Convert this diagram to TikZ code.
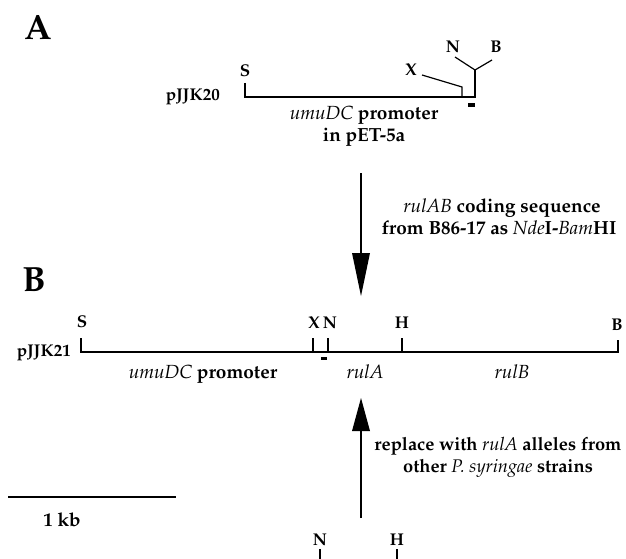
\documentclass[tikz,border=0pt]{standalone}
\usepackage[T1]{fontenc}
\usepackage{mathpazo}
\begin{document}
\begin{tikzpicture}[x=1pt,y=-1pt,
  lbl/.style={font=\fontsize{17}{19}\selectfont\bfseries, inner sep=0pt},
  txt/.style={font=\fontsize{19}{22}\selectfont\bfseries, inner sep=0pt, align=center},
  txts/.style={font=\fontsize{18.3}{22}\selectfont\bfseries, inner sep=0pt, align=center},
  panel/.style={font=\fontsize{35}{37}\selectfont\bfseries, inner sep=0pt},
  dna/.style={line width=1.4pt, line cap=butt},
  tick/.style={line width=1.2pt},
  bigarrow/.style={line width=1.4pt}
]
\useasboundingbox (0,0) rectangle (626,559);
% ---------------- Panel A
\node[panel] (pA) at (38,27) {A};
\node[lbl, anchor=base east] (p20) at (220,101) {pJJK20};
\node[lbl] (sA) at (245,71) {S};
\node[lbl] (xA) at (411,70) {X};
\node[lbl] (nA) at (453,47) {N};
\node[lbl] (bA) at (496,47) {B};
\coordinate (a0) at (245,83);
\coordinate (a1) at (245,97);
\coordinate (a2) at (475,97);
\coordinate (a3) at (475,70);
\coordinate (xt) at (462,97);
\coordinate (xt2) at (462,87);
\draw[dna] (a0) -- (a1) -- (a2) -- (a3);
\draw[tick] (a3) -- (455,57);
\draw[tick] (a3) -- (492,60);
\draw[tick] (xt) -- (xt2) -- (422,75);
\fill (468,103) rectangle (475,107);
\node[txt, anchor=base] (promA) at (364,120) {{\mdseries\itshape umuDC} promoter};
\node[txt, anchor=base] (petA) at (364,142) {in pET-5a};
% arrow 1
\coordinate (ar1s) at (361,173);
\coordinate (ar1e) at (361,296);
\draw[bigarrow] (ar1s) -- (361,258);
\fill (ar1e) -- (352,253) -- (370,253) -- cycle;
\node[txt, anchor=base] (t1a) at (502,212) {{\mdseries\itshape rulAB} coding sequence};
\node[txt, anchor=base] (t1b) at (499,234) {from B86-17 as {\mdseries\itshape Nde}I-{\mdseries\itshape Bam}HI};
% ---------------- Panel B
\node[panel] (pB) at (34,280) {B};
\node[lbl, anchor=base east] (p21) at (71,356) {pJJK21};
\node[lbl] (sB) at (82,322) {S};
\node[lbl] (xB) at (314,323) {X};
\node[lbl] (nB) at (330,323) {N};
\node[lbl] (hB) at (402,323) {H};
\node[lbl] (bB) at (617,325) {B};
\draw[dna] (81,338) -- (81,352) -- (618,352) -- (618,340);
\draw[tick] (313,352) -- (313,338);
\draw[tick] (328,352) -- (328,338);
\draw[tick] (402,352) -- (402,338);
\fill (321,357) rectangle (327,360);
\node[txt, anchor=base] (umB) at (203,378) {{\mdseries\itshape umuDC} promoter};
\node[txt, anchor=base] (rA) at (365,378) {\mdseries\itshape rulA};
\node[txt, anchor=base] (rB) at (512,378) {\mdseries\itshape rulB};
% arrow 2
\coordinate (ar2s) at (361,518);
\coordinate (ar2e) at (361,398);
\draw[bigarrow] (ar2s) -- (361,425);
\fill (ar2e) -- (352,431) -- (370,431) -- cycle;
\node[txts, anchor=base] (t2a) at (498,450) {replace with {\mdseries\itshape rulA} alleles from};
\node[txts, anchor=base] (t2b) at (498,472) {other {\mdseries\itshape P. syringae} strains};
% scale bar
\draw[dna] (8,497) -- (176,497);
\node[txt, anchor=base] (kb) at (62,526) {1 kb};
% bottom fragment
\node[lbl] (nC) at (320,540) {N};
\node[lbl] (hC) at (397,540) {H};
\draw[tick] (320,549) -- (320,559);
\draw[tick] (397,549) -- (397,559);
\end{tikzpicture}
\end{document}
